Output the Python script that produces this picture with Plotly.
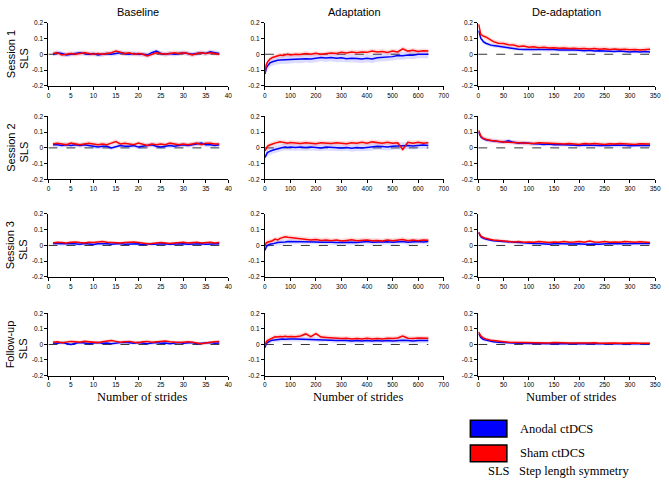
import numpy as np
import plotly.graph_objects as go

# ---------------- data ----------------
ROWS = ["Session 1", "Session 2", "Session 3", "Follow-up"]
COLS = ["Baseline", "Adaptation", "De-adaptation"]

BASE_X = list(range(1, 39))
ADAPT_X = [1, 3, 5, 10, 15, 20, 30, 40, 50, 60, 70, 80, 90, 100, 120, 140, 160, 180, 200, 220,
           240, 260, 280, 300, 320, 340, 360, 380, 400, 420, 440, 460, 480, 500, 520, 540, 560,
           580, 600, 620, 640]
DEADAPT_X = [1, 3, 5, 8, 10, 15, 20, 25, 30, 40, 50, 60, 70, 80, 90, 100, 110, 120, 130, 140,
             150, 160, 170, 180, 190, 200, 210, 220, 230, 240, 250, 260, 270, 280, 290, 300, 310,
             320, 330, 340]

# Baseline means
base_blue_s1 = [0.0, 0.01, 0.005, -0.005, 0.0, 0.005, 0.01, 0.005, 0.0, 0.005, -0.005, 0.0, 0.005, 0.0,
                0.005, 0.01, 0.005, 0.0, 0.005, 0.0, 0.0, -0.005, 0.01, 0.02, 0.005, 0.0, 0.005, 0.0,
                0.005, 0.01, 0.005, 0.0, 0.005, 0.01, 0.005, 0.015, 0.01, 0.005]
base_red_s1 = [0.005, 0.01, -0.005, 0.0, 0.005, 0.0, 0.005, 0.01, 0.005, 0.0, 0.005, 0.0, 0.005, 0.01,
               0.02, 0.01, 0.005, 0.01, 0.0, 0.005, 0.0, -0.01, 0.0, 0.01, 0.005, 0.0, 0.005, 0.01,
               0.005, 0.01, 0.005, -0.005, 0.005, 0.01, 0.005, 0.01, 0.005, 0.0]
base_blue_s2 = [0.02, 0.02, 0.015, 0.02, 0.015, 0.02, 0.015, 0.02, 0.015, 0.01, 0.005, 0.01, 0.01, 0.0,
                0.01, 0.015, 0.01, 0.01, 0.015, 0.005, 0.01, 0.015, 0.02, 0.01, 0.005, 0.01, 0.015,
                0.01, 0.015, 0.02, 0.015, 0.02, 0.025, 0.03, 0.02, 0.02, 0.015, 0.02]
base_red_s2 = [0.025, 0.03, 0.025, 0.02, 0.03, 0.025, 0.02, 0.025, 0.03, 0.025, 0.02, 0.025, 0.02, 0.03,
               0.04, 0.025, 0.03, 0.025, 0.02, 0.03, 0.02, 0.015, 0.025, 0.02, 0.025, 0.02, 0.03,
               0.025, 0.02, 0.025, 0.02, 0.025, 0.03, 0.02, 0.03, 0.03, 0.025, 0.025]
base_blue_s3 = [0.012, 0.01, 0.008, 0.01, 0.012, 0.01, 0.008, 0.012, 0.01, 0.006, 0.01, 0.012, 0.01,
                0.008, 0.01, 0.012, 0.008, 0.01, 0.012, 0.01, 0.005, 0.01, 0.008, 0.01, 0.012, 0.01,
                0.008, 0.01, 0.012, 0.01, 0.008, 0.01, 0.012, 0.01, 0.008, 0.01, 0.012, 0.01]
base_red_s3 = [0.015, 0.02, 0.018, 0.015, 0.02, 0.022, 0.018, 0.015, 0.02, 0.018, 0.022, 0.025, 0.02,
               0.018, 0.02, 0.015, 0.018, 0.02, 0.022, 0.018, 0.015, 0.01, 0.012, 0.015, 0.018, 0.015,
               0.012, 0.015, 0.018, 0.02, 0.015, 0.018, 0.02, 0.015, 0.018, 0.02, 0.015, 0.018]
base_blue_fu = [0.01, 0.008, 0.012, 0.005, 0.0, 0.008, 0.012, 0.01, 0.005, 0.01, 0.012, 0.008, 0.01,
                0.005, 0.01, 0.012, 0.015, 0.01, 0.008, 0.012, 0.01, 0.005, 0.01, 0.012, 0.008, 0.01,
                0.005, 0.01, 0.012, 0.008, 0.01, 0.012, 0.005, 0.008, 0.01, 0.012, 0.008, 0.01]
base_red_fu = [0.015, 0.018, 0.012, 0.015, 0.02, 0.018, 0.015, 0.02, 0.018, 0.015, 0.012, 0.018, 0.02,
               0.025, 0.02, 0.015, 0.018, 0.02, 0.015, 0.012, 0.018, 0.02, 0.015, 0.018, 0.02, 0.022,
               0.018, 0.015, 0.012, 0.015, 0.018, 0.015, 0.012, 0.005, 0.01, 0.015, 0.018, 0.02]

# Adaptation means
adapt_red_s1 = [-0.12, -0.09, -0.07, -0.05, -0.04, -0.03, -0.02, -0.015, -0.01, -0.005, -0.008, -0.003,
                0.0, -0.005, 0.0, -0.002, 0.005, 0.0, 0.006, 0.0, 0.004, 0.008, 0.005, 0.012, 0.008,
                0.014, 0.01, 0.015, 0.012, 0.02, 0.015, 0.018, 0.012, 0.02, 0.015, 0.035, 0.02, 0.025,
                0.018, 0.022, 0.02]
adapt_blue_s1 = [-0.125, -0.105, -0.09, -0.075, -0.065, -0.055, -0.048, -0.042, -0.038, -0.036, -0.035,
                 -0.037, -0.033, -0.035, -0.03, -0.032, -0.028, -0.03, -0.025, -0.02, -0.024, -0.02,
                 -0.025, -0.022, -0.028, -0.025, -0.027, -0.03, -0.025, -0.03, -0.022, -0.02, -0.018,
                 -0.015, -0.008, -0.01, -0.004, -0.006, 0.0, 0.002, 0.0]
adapt_red_s2 = [-0.02, -0.01, 0.0, 0.01, 0.015, 0.02, 0.025, 0.03, 0.035, 0.038, 0.035, 0.032, 0.03,
                0.034, 0.03, 0.028, 0.033, 0.03, 0.026, 0.032, 0.03, 0.028, 0.032, 0.03, 0.027, 0.033,
                0.03, 0.035, 0.03, 0.038, 0.032, 0.03, 0.035, 0.03, 0.033, -0.01, 0.035, 0.03, 0.035,
                0.03, 0.032]
adapt_blue_s2 = [-0.06, -0.05, -0.04, -0.03, -0.025, -0.02, -0.015, -0.01, -0.005, 0.0, 0.003, 0.005,
                 0.002, 0.005, 0.003, 0.006, 0.002, 0.005, 0.004, 0.0, 0.005, 0.003, 0.002, 0.0, 0.003,
                 -0.002, 0.002, 0.0, 0.003, 0.006, 0.01, 0.008, 0.005, 0.01, 0.012, 0.01, 0.015, 0.012,
                 0.015, 0.018, 0.015]
adapt_red_s3 = [0.0, 0.01, 0.015, 0.02, 0.022, 0.025, 0.03, 0.04, 0.035, 0.045, 0.05, 0.055, 0.052, 0.05,
                0.045, 0.042, 0.04, 0.035, 0.038, 0.032, 0.035, 0.03, 0.034, 0.028, 0.032, 0.036, 0.03,
                0.033, 0.035, 0.03, 0.032, 0.028, 0.035, 0.03, 0.033, 0.038, 0.03, 0.034, 0.03, 0.035,
                0.033]
adapt_blue_s3 = [-0.03, -0.015, -0.01, 0.0, 0.005, 0.008, 0.01, 0.015, 0.018, 0.02, 0.02, 0.022, 0.025,
                 0.025, 0.022, 0.025, 0.023, 0.025, 0.022, 0.02, 0.022, 0.02, 0.018, 0.02, 0.022, 0.02,
                 0.018, 0.022, 0.025, 0.02, 0.022, 0.02, 0.023, 0.02, 0.022, 0.025, 0.02, 0.022, 0.025,
                 0.022, 0.025]
adapt_red_fu = [-0.01, 0.005, 0.015, 0.025, 0.03, 0.035, 0.045, 0.05, 0.048, 0.052, 0.05, 0.053, 0.05,
                0.052, 0.05, 0.055, 0.068, 0.05, 0.07, 0.048, 0.045, 0.042, 0.04, 0.038, 0.04, 0.035,
                0.038, 0.035, 0.04, 0.036, 0.038, 0.035, 0.04, 0.038, 0.042, 0.055, 0.04, 0.038, 0.042,
                0.04, 0.04]
adapt_blue_fu = [-0.02, 0.0, 0.005, 0.012, 0.018, 0.022, 0.028, 0.03, 0.032, 0.033, 0.035, 0.033, 0.035,
                 0.036, 0.035, 0.034, 0.036, 0.035, 0.033, 0.03, 0.032, 0.028, 0.025, 0.027, 0.025,
                 0.022, 0.025, 0.023, 0.025, 0.022, 0.025, 0.023, 0.025, 0.022, 0.025, 0.027, 0.025,
                 0.022, 0.025, 0.023, 0.025]

# De-adaptation means
deadapt_red_s1 = [0.19, 0.15, 0.125, 0.12, 0.115, 0.11, 0.1, 0.09, 0.08, 0.07, 0.068, 0.06, 0.058, 0.05,
                  0.052, 0.045, 0.048, 0.042, 0.045, 0.04, 0.042, 0.038, 0.04, 0.036, 0.038, 0.035,
                  0.037, 0.033, 0.036, 0.032, 0.035, 0.03, 0.033, 0.03, 0.032, 0.028, 0.03, 0.027,
                  0.03, 0.032]
deadapt_blue_s1 = [0.15, 0.12, 0.1, 0.09, 0.08, 0.07, 0.062, 0.058, 0.055, 0.05, 0.048, 0.042, 0.038,
                   0.032, 0.03, 0.03, 0.028, 0.032, 0.03, 0.028, 0.03, 0.027, 0.028, 0.025, 0.027,
                   0.025, 0.022, 0.025, 0.02, 0.022, 0.02, 0.022, 0.018, 0.02, 0.017, 0.015, 0.018,
                   0.015, 0.017, 0.015]
deadapt_red_s2 = [0.11, 0.09, 0.075, 0.065, 0.06, 0.055, 0.05, 0.047, 0.045, 0.04, 0.038, 0.035, 0.033,
                  0.03, 0.032, 0.03, 0.028, 0.032, 0.03, 0.028, 0.03, 0.027, 0.025, 0.028, 0.025, 0.022,
                  0.027, 0.025, 0.028, 0.025, 0.022, 0.026, 0.024, 0.027, 0.024, 0.025, 0.022, 0.026,
                  0.024, 0.025]
deadapt_blue_s2 = [0.1, 0.085, 0.07, 0.062, 0.058, 0.052, 0.048, 0.045, 0.042, 0.04, 0.038, 0.045, 0.035,
                   0.03, 0.032, 0.028, 0.026, 0.025, 0.022, 0.024, 0.02, 0.022, 0.02, 0.018, 0.02, 0.015,
                   0.018, 0.016, 0.018, 0.015, 0.017, 0.015, 0.018, 0.015, 0.016, 0.014, 0.016, 0.015,
                   0.017, 0.015]
deadapt_red_s3 = [0.085, 0.07, 0.06, 0.055, 0.05, 0.045, 0.04, 0.038, 0.035, 0.03, 0.028, 0.025, 0.022,
                  0.025, 0.02, 0.022, 0.02, 0.025, 0.02, 0.018, 0.022, 0.02, 0.025, 0.02, 0.022, 0.025,
                  0.02, 0.028, 0.022, 0.02, 0.025, 0.02, 0.022, 0.02, 0.025, 0.022, 0.02, 0.024, 0.02,
                  0.018]
deadapt_blue_s3 = [0.08, 0.065, 0.055, 0.05, 0.045, 0.04, 0.035, 0.033, 0.03, 0.028, 0.025, 0.022, 0.018,
                   0.016, 0.015, 0.013, 0.012, 0.013, 0.01, 0.008, 0.01, 0.012, 0.01, 0.009, 0.011, 0.01,
                   0.008, 0.01, 0.009, 0.007, 0.01, 0.012, 0.01, 0.011, 0.01, 0.012, 0.01, 0.011, 0.012,
                   0.012]
deadapt_red_fu = [0.08, 0.065, 0.055, 0.048, 0.042, 0.036, 0.03, 0.027, 0.025, 0.02, 0.018, 0.015, 0.014,
                  0.012, 0.013, 0.01, 0.012, 0.01, 0.011, 0.009, 0.012, 0.01, 0.011, 0.009, 0.01, 0.008,
                  0.01, 0.009, 0.011, 0.008, 0.01, 0.009, 0.01, 0.008, 0.01, 0.009, 0.01, 0.008, 0.009,
                  0.008]
deadapt_blue_fu = [0.07, 0.055, 0.045, 0.038, 0.033, 0.028, 0.024, 0.02, 0.018, 0.015, 0.012, 0.01,
                   0.009, 0.008, 0.007, 0.006, 0.007, 0.006, 0.005, 0.006, 0.005, 0.006, 0.004, 0.005,
                   0.006, 0.005, 0.004, 0.006, 0.005, 0.004, 0.005, 0.006, 0.004, 0.005, 0.004, 0.005,
                   0.004, 0.005, 0.004, 0.005]

# Standard-deviation band half-widths, per row (Session 1, 2, 3, Follow-up)
SD_BASE_BLUE = [0.014, 0.014, 0.01, 0.01]
SD_BASE_RED = [0.014, 0.014, 0.01, 0.01]
SD_ADAPT_BLUE = [0.025, 0.022, 0.015, 0.015]
SD_ADAPT_RED = [0.015, 0.015, 0.015, 0.015]
SD_DEADAPT_BLUE = [0.012, 0.012, 0.01, 0.01]
SD_DEADAPT_RED = [0.015, 0.014, 0.01, 0.01]

X_RANGES = [[0, 40], [0, 700], [0, 350]]
X_TICKS = [list(range(0, 41, 5)), list(range(0, 701, 100)), list(range(0, 351, 50))]
Y_TICKS = [-0.2, -0.1, 0, 0.1, 0.2]
Y_TICK_TEXT = ["-0.2", "-0.1", "0", "0.1", "0.2"]

PANEL_X = [BASE_X, ADAPT_X, DEADAPT_X]
BLUE = [
    [base_blue_s1, adapt_blue_s1, deadapt_blue_s1],
    [base_blue_s2, adapt_blue_s2, deadapt_blue_s2],
    [base_blue_s3, adapt_blue_s3, deadapt_blue_s3],
    [base_blue_fu, adapt_blue_fu, deadapt_blue_fu],
]
RED = [
    [base_red_s1, adapt_red_s1, deadapt_red_s1],
    [base_red_s2, adapt_red_s2, deadapt_red_s2],
    [base_red_s3, adapt_red_s3, deadapt_red_s3],
    [base_red_fu, adapt_red_fu, deadapt_red_fu],
]
SD_BLUE = [SD_BASE_BLUE, SD_ADAPT_BLUE, SD_DEADAPT_BLUE]
SD_RED = [SD_BASE_RED, SD_ADAPT_RED, SD_DEADAPT_RED]

# ---------------- layout geometry ----------------
W, H = 669, 482
COL_PX = [(47, 229), (266, 447), (482, 661)]
ROW_PX = [(19, 83), (114, 178), (213, 277), (314, 377)]

fig = go.Figure()
layout = dict(
    width=W, height=H, margin=dict(l=0, r=0, t=0, b=0),
    paper_bgcolor="white", plot_bgcolor="white", showlegend=False,
    font=dict(family="Liberation Sans, Arial, sans-serif", color="black"),
)

tick_font = dict(family="Liberation Sans, Arial, sans-serif", size=6.5, color="black")

for r in range(4):
    for c in range(3):
        idx = r * 3 + c + 1
        xa = "x" if idx == 1 else f"x{idx}"
        ya = "y" if idx == 1 else f"y{idx}"
        xs = np.array(PANEL_X[c], dtype=float)
        blue = np.array(BLUE[r][c])
        red = np.array(RED[r][c])
        sb = SD_BLUE[c][r]
        sr = SD_RED[c][r]

        # zero reference line
        fig.add_trace(go.Scatter(x=[0, xs[-1]], y=[0, 0], mode="lines", xaxis=xa, yaxis=ya,
                                 line=dict(color="#333", width=1, dash="dash"), hoverinfo="skip"))
        # bands
        for m, s, col in ((blue, sb, "rgba(80,80,255,0.20)"), (red, sr, "rgba(255,80,80,0.20)")):
            fig.add_trace(go.Scatter(
                x=np.concatenate([xs, xs[::-1]]),
                y=np.concatenate([m + s, (m - s)[::-1]]),
                fill="toself", fillcolor=col, line=dict(width=0), mode="lines",
                xaxis=xa, yaxis=ya, hoverinfo="skip"))
        fig.add_trace(go.Scatter(x=xs, y=blue, mode="lines", xaxis=xa, yaxis=ya,
                                 line=dict(color="#0000ff", width=1.5)))
        fig.add_trace(go.Scatter(x=xs, y=red, mode="lines", xaxis=xa, yaxis=ya,
                                 line=dict(color="#ff0000", width=1.5)))

        x0, x1 = COL_PX[c]
        y0, y1 = ROW_PX[r]
        layout["xaxis" if idx == 1 else f"xaxis{idx}"] = dict(
            domain=[x0 / W, x1 / W], range=X_RANGES[c], anchor=ya,
            tickvals=X_TICKS[c], ticks="outside", ticklen=3, tickwidth=1, tickcolor="black",
            showline=True, linecolor="black", linewidth=1, showgrid=False, zeroline=False,
            tickfont=tick_font)
        layout["yaxis" if idx == 1 else f"yaxis{idx}"] = dict(
            domain=[1 - y1 / H, 1 - y0 / H], range=[-0.2, 0.2], anchor=xa,
            tickvals=Y_TICKS, ticktext=Y_TICK_TEXT, ticks="outside", ticklen=3, tickwidth=1,
            tickcolor="black", showline=True, linecolor="black", linewidth=1, showgrid=False,
            zeroline=False, tickfont=tick_font)

annotations = []
shapes = []
# column titles
for c, name in enumerate(COLS):
    x0, x1 = COL_PX[c]
    annotations.append(dict(x=(x0 + x1) / 2 / W, y=1 - 8 / H, xref="paper", yref="paper",
                            text=name, showarrow=False, xanchor="center", yanchor="middle",
                            font=dict(size=11, family="Liberation Sans, Arial, sans-serif")))
    annotations.append(dict(x=(x0 + x1) / 2 / W + 4 / W, y=1 - 399 / H, xref="paper", yref="paper",
                            text="Number of strides", showarrow=False, xanchor="center",
                            yanchor="middle", borderpad=0,
                            font=dict(size=12.5, family="Liberation Serif, Times New Roman, serif")))
# row titles
for r, name in enumerate(ROWS):
    y0, y1 = ROW_PX[r]
    yc = 1 - ((y0 + y1) / 2) / H
    annotations.append(dict(x=9 / W, y=yc, xref="paper", yref="paper", text=name,
                            showarrow=False, textangle=-90, xanchor="center", yanchor="middle",
                            font=dict(size=11, family="Liberation Sans, Arial, sans-serif")))
    annotations.append(dict(x=22 / W, y=yc - 4 / H, xref="paper", yref="paper", text="SLS",
                            showarrow=False, textangle=-90, xanchor="center", yanchor="middle",
                            font=dict(size=11, family="Liberation Sans, Arial, sans-serif")))

# legend
LEGEND = [("Anodal ctDCS", "#0000ff", 431), ("Sham ctDCS", "#ff0000", 456)]
serif = dict(size=12.5, family="Liberation Serif, Times New Roman, serif", color="black")
for label, color, yc in LEGEND:
    shapes.append(dict(type="rect", xref="paper", yref="paper",
                       x0=474 / W, x1=511 / W, y0=1 - (yc + 8.5) / H, y1=1 - (yc - 8.5) / H,
                       fillcolor=color, line=dict(color="black", width=1.5)))
    annotations.append(dict(x=522 / W, y=1 - yc / H, xref="paper", yref="paper", text=label,
                            showarrow=False, xanchor="left", yanchor="middle", font=serif))
annotations.append(dict(x=491 / W, y=1 - 474 / H, xref="paper", yref="paper", text="SLS",
                        showarrow=False, xanchor="left", yanchor="middle", borderpad=0, font=serif))
annotations.append(dict(x=522 / W, y=1 - 474 / H, xref="paper", yref="paper",
                        text="Step length symmetry", showarrow=False, xanchor="left",
                        yanchor="middle", borderpad=0, font=serif))

layout["annotations"] = annotations
layout["shapes"] = shapes
fig.update_layout(**layout)
fig.write_html("out.html", config={"displayModeBar": False},
               post_script="document.body.style.margin='0px';document.body.style.padding='0px';"
                           "document.body.style.overflow='hidden';")
